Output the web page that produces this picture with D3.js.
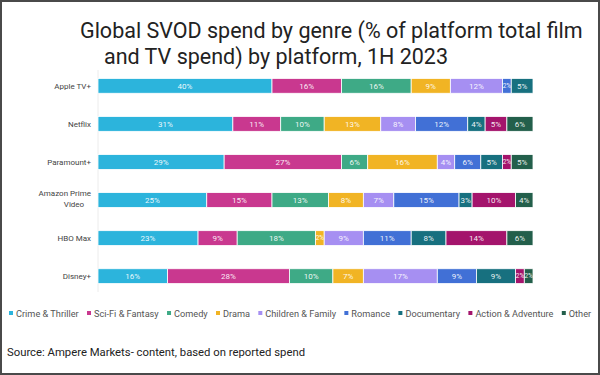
<!DOCTYPE html>
<html><head><meta charset="utf-8">
<script src="https://cdn.jsdelivr.net/npm/d3@7"></script>
<style>html,body{margin:0;padding:0;background:#fff;}svg{display:block;font-family:Roboto,"Noto Sans",sans-serif;}</style>
</head><body>
<svg id="chart" width="600" height="375"></svg>
<script>
const platforms = ["Apple TV+", "Netflix", "Paramount+", "Amazon Prime Video", "HBO Max", "Disney+"];
const genres = ["Crime & Thriller", "Sci-Fi & Fantasy", "Comedy", "Drama", "Children & Family", "Romance", "Documentary", "Action & Adventure", "Other"];
const colors = ["#2cb4dc", "#c9388f", "#3eaa86", "#f1b424", "#a68ff2", "#4170d6", "#17707f", "#a4146c", "#235f4b"];
const crimeThriller   = [40, 31, 29, 25, 23, 16];
const sciFiFantasy    = [16, 11, 27, 15, 9, 28];
const comedy          = [16, 10, 6, 13, 18, 10];
const drama           = [9, 13, 16, 8, 2, 7];
const childrenFamily  = [12, 8, 4, 7, 9, 17];
const romance         = [2, 12, 6, 15, 11, 9];
const documentary     = [5, 4, 5, 3, 8, 9];
const actionAdventure = [0, 5, 2, 10, 14, 2];
const other           = [0, 6, 5, 4, 6, 2];
const series = [crimeThriller, sciFiFantasy, comedy, drama, childrenFamily, romance, documentary, actionAdventure, other];
const titleLines = ["Global SVOD spend by genre (% of platform total film", "and TV spend) by platform, 1H 2023"];
const sourceText = "Source: Ampere Markets- content, based on reported spend";

const svg = d3.select("#chart");
const W = 600, H = 375;

// frame
svg.append("rect").attr("x", 1).attr("y", 1).attr("width", W - 2).attr("height", H - 2)
  .attr("fill", "#fff").attr("stroke", "#4a4a4a").attr("stroke-width", 2);

// title
svg.append("text").attr("x", 80).attr("y", 38).attr("font-size", 21.5).attr("fill", "#222").text(titleLines[0]);
svg.append("text").attr("x", 104).attr("y", 64).attr("font-size", 21.5).attr("fill", "#222").text(titleLines[1]);

const x = d3.scaleLinear().domain([0, 100]).range([98, 533]);
const y = d3.scaleBand().domain(platforms).range([67, 295]).paddingInner(0.61).paddingOuter(0.3);

// axis line
svg.append("line").attr("x1", 98).attr("x2", 98).attr("y1", 70).attr("y2", 292)
  .attr("stroke", "#ececec").attr("stroke-width", 1);

const rows = platforms.map((p, i) => {
  let acc = 0;
  return genres.map((g, j) => {
    const v = series[j][i];
    const d = { platform: p, genre: g, j, v, x0: acc, x1: acc + v };
    acc += v;
    return d;
  });
}).flat().filter(d => d.v > 0);

const segs = svg.append("g");
segs.selectAll("rect").data(rows).join("rect")
  .attr("x", d => x(d.x0)).attr("width", d => x(d.x1) - x(d.x0))
  .attr("y", d => y(d.platform)).attr("height", y.bandwidth())
  .attr("fill", d => colors[d.j]).attr("stroke", "#fff").attr("stroke-width", 0.8);

segs.selectAll("text").data(rows).join("text")
  .attr("x", d => (x(d.x0) + x(d.x1)) / 2).attr("y", d => y(d.platform) + y.bandwidth() / 2)
  .attr("dy", "0.36em").attr("text-anchor", "middle").attr("font-size", d => d.v <= 2 ? 6.5 : 8)
  .attr("fill", "#fff").attr("fill-opacity", 0.92).text(d => d.v + "%");

// category labels
const lab = svg.append("g");
platforms.forEach(p => {
  const cy = y(p) + y.bandwidth() / 2;
  if (p === "Amazon Prime Video") {
    lab.append("text").attr("x", 91).attr("y", cy - 4).attr("text-anchor", "end").attr("font-size", 8).attr("fill", "#444").text("Amazon Prime");
    lab.append("text").attr("x", 74).attr("y", cy + 7).attr("text-anchor", "middle").attr("font-size", 8).attr("fill", "#444").text("Video");
  } else {
    lab.append("text").attr("x", 91).attr("y", cy).attr("dy", "0.35em").attr("text-anchor", "end").attr("font-size", 8).attr("fill", "#444").text(p);
  }
});

// legend
const leg = svg.append("g");
let lx = 9;
genres.forEach((g, j) => {
  leg.append("rect").attr("x", lx).attr("y", 311).attr("width", 4).attr("height", 4).attr("fill", colors[j]);
  const t = leg.append("text").attr("x", lx + 7).attr("y", 316.5).attr("font-size", 9.2).attr("fill", "#555").text(g);
  lx += 7 + t.node().getComputedTextLength() + 8.3;
});

// source
svg.append("text").attr("x", 7).attr("y", 356).attr("font-size", 11.3).attr("fill", "#222").text(sourceText);
</script>
</body></html>
